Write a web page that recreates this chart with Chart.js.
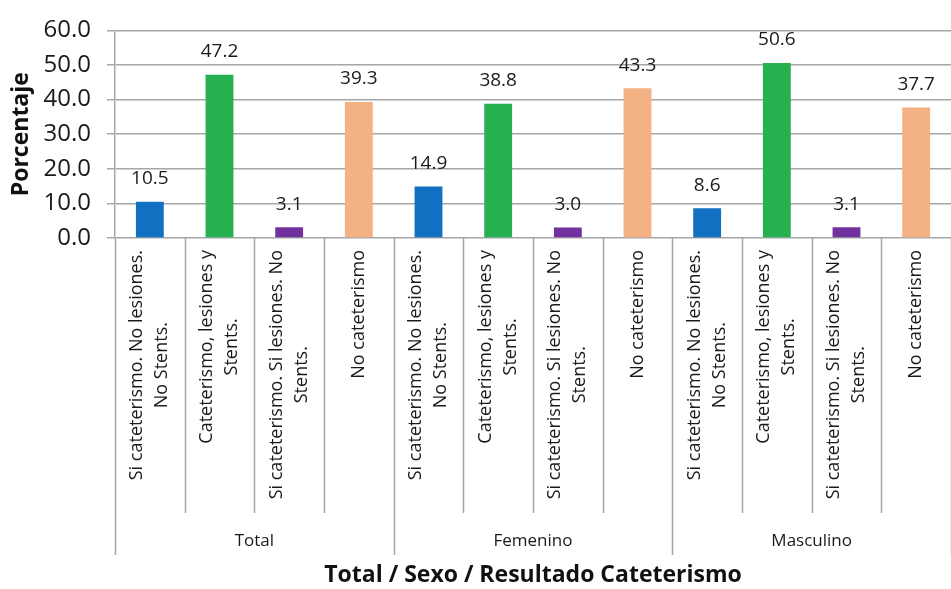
<!DOCTYPE html>
<html>
<head>
<meta charset="utf-8">
<script src="https://cdn.jsdelivr.net/npm/chart.js@4.4.1/dist/chart.umd.min.js"></script>
<style>
  html, body { margin: 0; padding: 0; background: #fff; }
  #wrap { width: 951px; height: 589px; }
</style>
</head>
<body>
<div id="wrap"><canvas id="chart" width="951" height="589"></canvas></div>
<script>
const groups = ['Total', 'Femenino', 'Masculino'];
const categories = [
  ['Si cateterismo. No lesiones.', 'No Stents.'],
  ['Cateterismo, lesiones y', 'Stents.'],
  ['Si cateterismo. Si lesiones. No', 'Stents.'],
  ['No cateterismo'],
];
const totalValues = [10.5, 47.2, 3.1, 39.3];
const femeninoValues = [14.9, 38.8, 3.0, 43.3];
const masculinoValues = [8.6, 50.6, 3.1, 37.7];
const yTicks = [0, 10, 20, 30, 40, 50, 60];

const barColours = ['#1170c1', '#26b050', '#7132a0', '#f4b183'];
const FONT = '"Open Sans", Lato, sans-serif';
const LINE = '#a6a6a6';

const values = [...totalValues, ...femeninoValues, ...masculinoValues];
const labels = [];
groups.forEach((g) => categories.forEach((c) => labels.push(g + ' | ' + c.join(' '))));

// value labels above bars + category / group labels under the axis
const labelsPlugin = {
  id: 'labelsPlugin',
  afterDraw(chart) {
    const ctx = chart.ctx;
    const x = chart.scales.x;
    const bottom = chart.chartArea.bottom;
    const n = labels.length;
    const step = (x.right - x.left) / n;

    ctx.save();
    // value labels
    const meta = chart.getDatasetMeta(0);
    ctx.fillStyle = '#1a1a1a';
    ctx.font = '19px ' + FONT;
    ctx.textAlign = 'center';
    ctx.textBaseline = 'middle';
    meta.data.forEach((bar, i) => {
      ctx.fillText(values[i].toFixed(1), bar.x, bar.y - 23);
    });

    // separators
    ctx.strokeStyle = LINE;
    ctx.lineWidth = 1.5;
    for (let i = 0; i <= n; i++) {
      const px = Math.round(x.left + i * step) + 0.5;
      const len = i % categories.length === 0 ? 317 : 275;
      ctx.beginPath();
      ctx.moveTo(px, bottom);
      ctx.lineTo(px, bottom + len);
      ctx.stroke();
    }

    // rotated category labels
    ctx.font = '18px ' + FONT;
    ctx.fillStyle = '#1a1a1a';
    const lineH = 25;
    for (let i = 0; i < n; i++) {
      const cat = categories[i % categories.length];
      const cx = x.getPixelForValue(i);
      const maxW = Math.max(...cat.map((t) => ctx.measureText(t).width));
      const cy = bottom + 12 + maxW / 2;
      cat.forEach((t, k) => {
        const off = (k - (cat.length - 1) / 2) * lineH;
        ctx.save();
        ctx.translate(cx + off, cy);
        ctx.rotate(-Math.PI / 2);
        ctx.fillText(t, 0, 0);
        ctx.restore();
      });
    }

    // group labels
    ctx.font = '17px ' + FONT;
    groups.forEach((g, gi) => {
      const gx = x.left + (gi + 0.5) * categories.length * step;
      ctx.fillText(g, gx, bottom + 303);
    });
    ctx.restore();
  },
};

new Chart(document.getElementById('chart'), {
  type: 'bar',
  data: {
    labels: labels,
    datasets: [
      {
        data: values,
        backgroundColor: values.map((v, i) => barColours[i % barColours.length]),
        barPercentage: 0.4,
        categoryPercentage: 1,
      },
    ],
  },
  options: {
    responsive: false,
    animation: false,
    layout: { padding: { top: 25, right: 0, left: 0, bottom: 0 } },
    plugins: { legend: { display: false }, tooltip: { enabled: false } },
    scales: {
      x: {
        grid: { display: false },
        border: { display: false },
        ticks: { display: false },
        afterFit: (scale) => { scale.height = 351; },
        title: {
          display: true,
          text: 'Total / Sexo / Resultado Cateterismo',
          color: '#111',
          font: { family: FONT, size: 23, weight: 'bold' },
          padding: { top: 0, bottom: 0 },
        },
      },
      y: {
        min: 0,
        max: 60,
        afterBuildTicks: (scale) => { scale.ticks = yTicks.map((v) => ({ value: v })); },
        afterFit: (scale) => { scale.width = 115; },
        grid: { color: LINE, lineWidth: 1.5, tickLength: 8 },
        border: { color: LINE, width: 1.5 },
        ticks: {
          color: '#1a1a1a',
          padding: 16,
          font: { family: FONT, size: 24 },
          callback: (v) => Number(v).toFixed(1),
        },
        title: {
          display: true,
          text: 'Porcentaje',
          color: '#111',
          font: { family: FONT, size: 23, weight: 'bold' },
          padding: { top: 8, bottom: 0 },
        },
      },
    },
  },
  plugins: [labelsPlugin],
});
</script>
</body>
</html>
